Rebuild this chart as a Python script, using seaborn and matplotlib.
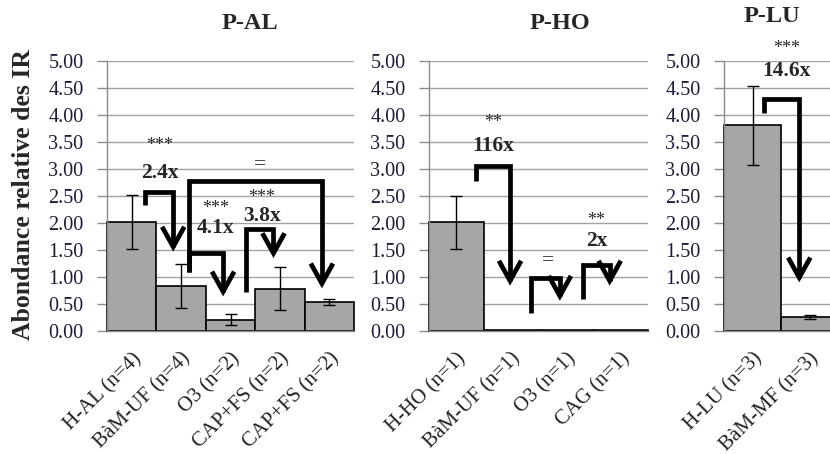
import numpy as np
import pandas as pd
import seaborn as sns
import matplotlib.pyplot as plt
from matplotlib.patches import FancyArrowPatch
from matplotlib.path import Path

# P-AL
al_labels = ['H-AL (n=4)', 'BàM-UF (n=4)', 'O3 (n=2)', 'CAP+FS (n=2)', 'CAP+FS (n=2)']
al_values = [2.02, 0.84, 0.21, 0.78, 0.54]
al_errors = [0.50, 0.41, 0.10, 0.40, 0.06]
# P-HO
ho_labels = ['H-HO (n=1)', 'BàM-UF (n=1)', 'O3 (n=1)', 'CAG (n=1)']
ho_values = [2.01, 0.02, 0.02, 0.01]
ho_errors = [0.49, 0.0, 0.0, 0.0]
# P-LU
lu_labels = ['H-LU (n=3)', 'BàM-MF (n=3)']
lu_values = [3.81, 0.26]
lu_errors = [0.73, 0.04]

titles = ['P-AL', 'P-HO', 'P-LU']

# arrows: (x start, y start, y top, x end, y tip, stars, fold, text x, stars y, fold y)
al_arrows = [
    (0.27, 2.33, 2.58, 0.84, 1.47, '***', '2.4x', 0.57, 3.43, 2.92),
    (1.17, 1.10, 2.77, 3.85, 0.79, '', '=', 2.60, None, 3.08),
    (1.17, 1.10, 1.44, 1.85, 0.64, '***', '4.1x', 1.69, 2.27, 1.90),
    (2.31, 0.73, 1.88, 2.87, 1.35, '***', '3.8x', 2.63, 2.47, 2.13),
]
ho_arrows = [
    (0.35, 2.78, 3.06, 0.98, 0.84, '**', '116x', 0.67, 3.87, 3.42),
    (1.37, 0.34, 0.99, 1.89, 0.56, '', '=', 1.68, None, 1.30),
    (2.32, 0.59, 1.22, 2.80, 0.84, '**', '2x', 2.56, 2.05, 1.66),
]
lu_arrows = [
    (0.20, 4.04, 4.30, 0.82, 0.90, '***', '14.6x', 0.60, 5.23, 4.81),
]

sns.set_style('white')
plt.rcParams['font.family'] = ['Liberation Serif', 'DejaVu Serif']

W, H = 830, 454
fig = plt.figure(figsize=(W / 100, H / 100), dpi=100)

# axes boxes in pixels: left, right
boxes = [(107, 354), (429, 648), (724, 838)]
y_top, y_bot = 61, 331
title_pos = [(250, 23.5), (560, 23.5), (772, 16.5)]

panels = [
    (al_labels, al_values, al_errors, al_arrows),
    (ho_labels, ho_values, ho_errors, ho_arrows),
    (lu_labels, lu_values, lu_errors, lu_arrows),
]

grid_c = '#a3a3a3'
axis_c = '#8c8c8c'
tick_c = '#1c1c38'

for k, (labels, values, errors, arrows) in enumerate(panels):
    l, r = boxes[k]
    ax = fig.add_axes([l / W, 1 - y_bot / H, (r - l) / W, (y_bot - y_top) / H])
    df = pd.DataFrame({'pos': range(len(values)), 'value': values, 'err': errors})
    sns.barplot(data=df, x='pos', y='value', color='#a6a6a6', saturation=1,
                width=1, edgecolor='black', linewidth=1.2, errorbar=None, ax=ax, zorder=2)
    for p in ax.patches:
        p.set_clip_on(False)
    m = df['err'] > 0
    ax.errorbar(df['pos'][m], df['value'][m], yerr=df['err'][m], fmt='none',
                ecolor='black', elinewidth=1, capsize=4.5, capthick=1, zorder=3)
    n = len(values)
    ax.set_xlim(-0.5, n - 0.5)
    ax.set_ylim(0, 5)
    ax.set_yticks(np.arange(0, 5.01, 0.5))
    ax.set_yticklabels([f'{v:.2f}' for v in np.arange(0, 5.01, 0.5)], fontsize=14.5, color=tick_c)
    ax.yaxis.grid(True, color=grid_c, lw=1, zorder=0)
    ax.set_axisbelow(True)
    ax.set_xticks(range(n))
    ax.set_xticklabels(labels, rotation=45, ha='right', va='top', rotation_mode='anchor',
                       fontsize=15, color='#222222')
    ax.set_xticks(np.arange(-0.5, n), minor=True)
    ax.tick_params(axis='x', which='major', length=0, pad=13)
    ax.tick_params(axis='x', which='minor', length=7, color=axis_c, width=1, direction='out')
    ax.tick_params(axis='y', length=7, color=axis_c, width=1, direction='out', pad=10, left=True)
    ax.set_xlabel('')
    ax.set_ylabel('')
    for s in ['top', 'right']:
        ax.spines[s].set_visible(False)
    for s in ['left', 'bottom']:
        ax.spines[s].set_color(axis_c)
        ax.spines[s].set_linewidth(1)

    for xs, ys, yt, xe, ytip, stars, fold, tx, sy, fy in arrows:
        path = Path([(xs, ys), (xs, yt), (xe, yt), (xe, ytip)],
                    [Path.MOVETO, Path.LINETO, Path.LINETO, Path.LINETO])
        arr = FancyArrowPatch(path=path, arrowstyle='->,head_length=0.72,head_width=0.4',
                              mutation_scale=20, lw=3.4, color='black', zorder=5,
                              joinstyle='miter', capstyle='butt', clip_on=False)
        ax.add_patch(arr)
        if stars:
            ax.text(tx, sy, stars, ha='center', va='center', fontsize=13, zorder=6)
        ax.text(tx, fy, fold, ha='center', va='center', fontsize=15.5,
                fontweight='bold' if fold != '=' else 'normal', zorder=6)

    tx, ty = title_pos[k]
    fig.text(tx / W, 1 - ty / H, titles[k], ha='center', va='center',
             fontsize=17.5, fontweight='bold')

fig.text(24 / W, 1 - 195 / H, 'Abondance relative des IR', rotation=90,
         ha='center', va='center', fontsize=18.5, fontweight='bold')

fig.savefig('out.png', dpi=100)
